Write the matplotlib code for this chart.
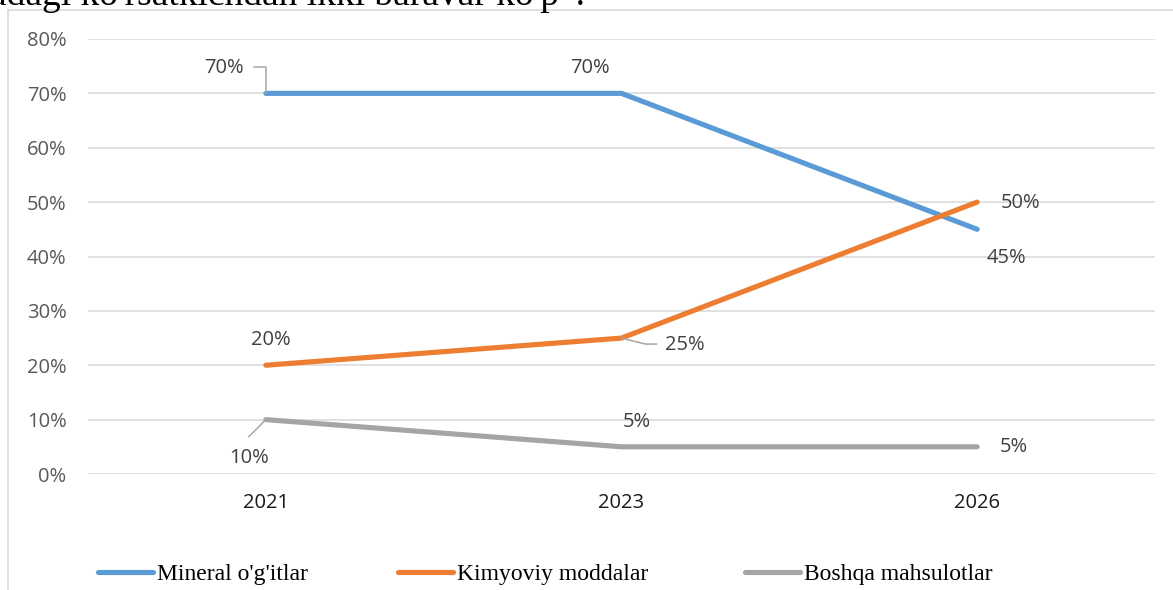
import matplotlib
matplotlib.use("Agg")
import matplotlib.pyplot as plt
from matplotlib.lines import Line2D

# Series data
years = ["2021", "2023", "2026"]
mineral = [0.70, 0.70, 0.45]
kimyoviy = [0.20, 0.25, 0.50]
boshqa = [0.10, 0.05, 0.05]
series_names = ["Mineral o'g'itlar", "Kimyoviy moddalar", "Boshqa mahsulotlar"]
y_ticks = [0.0, 0.1, 0.2, 0.3, 0.4, 0.5, 0.6, 0.7, 0.8]

colors = ["#5b9bd5", "#ed7d31", "#a5a5a5"]
W, H = 1173, 590
fig = plt.figure(figsize=(W / 100, H / 100), dpi=100)
fig.patch.set_facecolor("white")

# plot area in pixel terms
left, right, top, bottom = 88, 1155, 39, 474
ax = fig.add_axes([left / W, 1 - bottom / H, (right - left) / W, (bottom - top) / H])

x = list(range(len(years)))
series = [mineral, kimyoviy, boshqa]
for vals, c in zip(series, colors):
    ax.plot(x, vals, color=c, lw=3.7, solid_capstyle="round", solid_joinstyle="round", zorder=3)

ax.set_xlim(-0.5, len(years) - 0.5)
ax.set_ylim(0, 0.8)
ax.set_yticks(y_ticks)
ax.set_yticklabels([f"{int(round(v * 100))}%" for v in y_ticks])
ax.set_xticks(x)
ax.set_xticklabels(years)
ax.grid(axis="y", color="#d9d9d9", lw=1.1)
ax.set_axisbelow(True)
for s in ax.spines.values():
    s.set_visible(False)
ax.tick_params(axis="both", length=0, labelsize=14.5)
ax.tick_params(axis="y", pad=15.5, labelcolor="#595959")
ax.tick_params(axis="x", pad=14, labelcolor="#1a1a1a")
for t in ax.get_yticklabels() + ax.get_xticklabels():
    t.set_fontfamily("Open Sans")

fig.canvas.draw()


def to_fig(xi, yi, dx, dy):
    px, py = ax.transData.transform((xi, yi))
    return fig.transFigure.inverted().transform((px + dx, py + dy))


# data labels: (series index, point index, dx, dy) in pixels from the point
label_offsets = [
    (0, 0, -42, 25), (0, 1, -32, 25), (0, 2, 29, -29),
    (1, 0, 5, 25), (1, 1, 63, -7), (1, 2, 43, -1),
    (2, 0, -17, -38), (2, 1, 15, 25), (2, 2, 37, 0),
]
for si, pi, dx, dy in label_offsets:
    v = series[si][pi]
    fx, fy = to_fig(pi, v, dx, dy)
    fig.text(fx, fy, f"{int(round(v * 100))}%", ha="center", va="center",
             fontsize=14.5, color="#404040", family="Open Sans")

# leader lines for labels moved away from their points
leaders = [
    (0, 0, [(-12, 26), (0, 26), (0, 0)]),
    (1, 1, [(0, 0), (24, -6), (35, -6)]),
    (2, 0, [(0, 0), (-17, -17)]),
]
for si, pi, pts in leaders:
    v = series[si][pi]
    xy = [to_fig(pi, v, dx, dy) for dx, dy in pts]
    fig.add_artist(Line2D([p[0] for p in xy], [p[1] for p in xy],
                          transform=fig.transFigure, color="#a6a6a6", lw=1.1, zorder=4))

# legend entries laid out in a row along the bottom of the chart
legend_y = 1 - 572 / H
legend_x = [98, 398, 745]
for name, c, lx in zip(series_names, colors, legend_x):
    fig.add_artist(Line2D([lx / W, (lx + 55) / W], [legend_y, legend_y],
                          transform=fig.transFigure, color=c, lw=3.7, solid_capstyle="round"))
    fig.text((lx + 59) / W, legend_y, name, ha="left", va="center_baseline",
             fontsize=17, family="Liberation Serif", color="#000000")

# chart frame
fig.add_artist(Line2D([8 / W, 8 / W], [0, 1 - 10 / H], transform=fig.transFigure, color="#d9d9d9", lw=1.2))
fig.add_artist(Line2D([8 / W, 1], [1 - 10 / H, 1 - 10 / H], transform=fig.transFigure, color="#d9d9d9", lw=1.2))

# surrounding paragraph line above the chart
fig.text(-10 / W, 1 - 5 / H, "adagi ko'rsatkichdan ikki baravar ko'p\u201d.", ha="left", va="baseline",
         fontsize=27, family="Liberation Serif", color="#000000")

fig.savefig("out.png", dpi=100, facecolor="white")
